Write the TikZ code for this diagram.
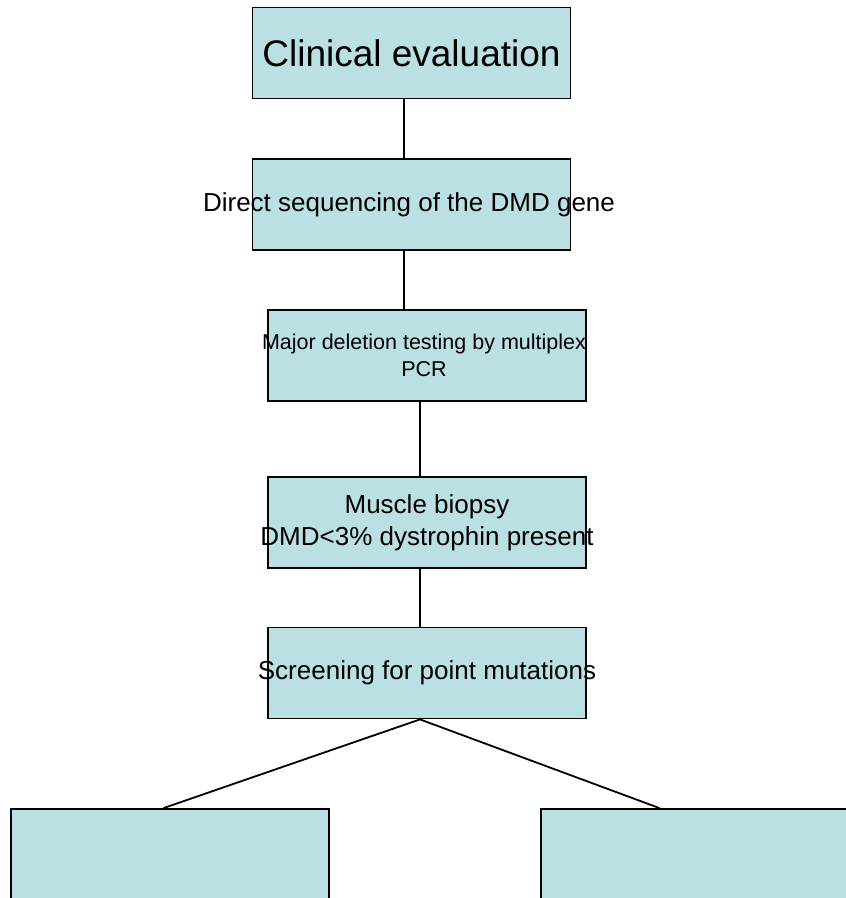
\documentclass[tikz,border=0pt]{standalone}
\usepackage{fontspec}
\setmainfont{Liberation Sans}
\usetikzlibrary{calc}
\definecolor{boxcyan}{RGB}{187,224,227}
\tikzset{-box-/.style={draw=black,line width=1.8pt,fill=boxcyan,rectangle,
    minimum width=318pt,minimum height=91pt,inner sep=0pt},
  -txt-/.style={align=center,inner sep=0pt,font=\fontsize{#1}{1.24\dimexpr#1pt\relax}\selectfont},
  -link-/.style={line width=1.8pt}
}

\begin{document}
\begin{tikzpicture}[x=1pt,y=-1pt]
                \useasboundingbox (0,0) rectangle (846,898);
                \clip (0,0) rectangle (846,898);

                % Boxes
                \node[-box-] (eval) at (411.5,53) {};
                \node[-box-] (seq) at (411.5,204.5) {};
                \node[-box-] (pcr) at (427,355.5) {};
                \node[-box-] (biopsy) at (427,522.5) {};
                \node[-box-] (screen) at (427,673) {};
                \node[-box-] (resL) at (170,854.5) {};
                \node[-box-] (resR) at (700,854.5) {};

                % Links
                \coordinate (spineA) at (404,0);
                \coordinate (spineB) at (420,0);
                \draw[-link-] (eval.south -| spineA) -- (seq.north -| spineA);
                \draw[-link-] (seq.south -| spineA) -- (pcr.north -| spineA);
                \draw[-link-] (pcr.south -| spineB) -- (biopsy.north -| spineB);
                \draw[-link-] (biopsy.south -| spineB) -- (screen.north -| spineB);
                \draw[-link-] ($(resL.north)+(-6.5,0)$) -- (screen.south -| spineB) -- ($(resR.north)+(-40.5,0)$);

                % Labels
                \node[-txt-=37] (evalT) at (eval) {Clinical evaluation};
                \node[-txt-=26] (seqT) at ($(seq)+(-2.5,0)$) {Direct sequencing of the DMD gene};
                \node[-txt-=21.5] (pcrT) at ($(pcr)+(-3,0)$) {Major deletion testing by multiplex\\PCR};
                \node[-txt-=26] (biopsyT) at (biopsy) {Muscle biopsy\\DMD<3\% dystrophin present};
                \node[-txt-=26] (screenT) at (screen) {Screening for point mutations};
            \end{tikzpicture}
\end{document}
